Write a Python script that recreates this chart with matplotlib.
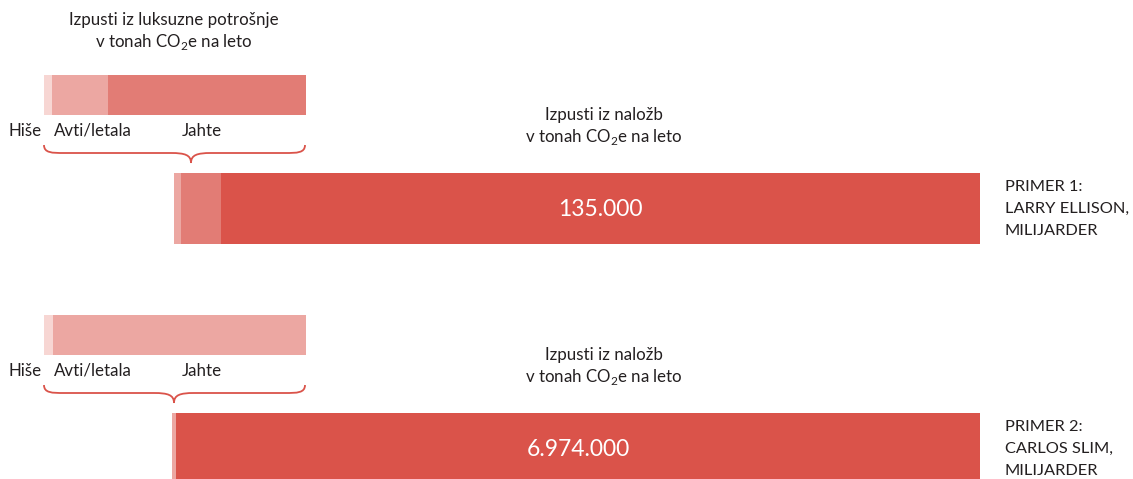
import matplotlib
matplotlib.use("Agg")
import matplotlib.pyplot as plt
from matplotlib.path import Path
from matplotlib.patches import PathPatch

plt.rcParams['font.family'] = ['Lato', 'DejaVu Sans']
plt.rcParams['mathtext.fontset'] = 'custom'
plt.rcParams['mathtext.rm'] = 'Lato'

# ---------------- data ----------------
lux_categories = ["Hiše", "Avti/letala", "Jahte"]
# share of luxury-consumption emissions (%), per example
ellison_lux = [3.0, 21.4, 75.6]
slim_lux = [3.4, 96.6, 0.0]
# investment bar segments (t CO2e / year): luxury parts + investments
ellison_inv = [1250, 7100, 135000]
slim_inv = [34650, 6974000]
ellison_label = "135.000"
slim_label = "6.974.000"
example_labels = [["PRIMER 1:", "LARRY ELLISON,", "MILIJARDER"],
                  ["PRIMER 2:", "CARLOS SLIM,", "MILIJARDER"]]

# ---------------- style ----------------
W, H = 1133, 479
C_LIGHTEST = "#f7d6d3"
C_LIGHT = "#eca7a2"
C_MED = "#e27c75"
C_DARK = "#da534a"
TXT = "#231f20"
lux_colors = [C_LIGHTEST, C_LIGHT, C_MED]

fig = plt.figure(figsize=(W / 100, H / 100), dpi=100)
fig.patch.set_facecolor("white")

# overlay axes in pixel coordinates (for text & braces)
ov = fig.add_axes([0, 0, 1, 1])
ov.set_xlim(0, W)
ov.set_ylim(H, 0)
ov.axis("off")


def bar_axes(x0, x1, y0, y1):
    ax = fig.add_axes([x0 / W, 1 - y1 / H, (x1 - x0) / W, (y1 - y0) / H])
    ax.set_ylim(-0.5, 0.5)
    ax.axis("off")
    return ax


def stacked(ax, values, colors):
    left = 0
    for v, c in zip(values, colors):
        if v > 0:
            ax.barh(0, v, left=left, height=1.0, color=c, linewidth=0)
        left += v
    ax.set_xlim(0, left)


def brace(x0, x1, xt, ytop, ymid, ytip, color=C_DARK):
    verts = [(x0, ytop),
             (x0, ymid), (x0 + 8, ymid), (x0 + 20, ymid),
             (xt - 20, ymid),
             (xt - 6, ymid), (xt, ymid + 2), (xt, ytip),
             (xt, ymid + 2), (xt + 6, ymid), (xt + 20, ymid),
             (x1 - 20, ymid),
             (x1 - 8, ymid), (x1, ymid), (x1, ytop)]
    codes = [Path.MOVETO,
             Path.CURVE4, Path.CURVE4, Path.CURVE4,
             Path.LINETO,
             Path.CURVE4, Path.CURVE4, Path.CURVE4,
             Path.CURVE4, Path.CURVE4, Path.CURVE4,
             Path.LINETO,
             Path.CURVE4, Path.CURVE4, Path.CURVE4]
    ov.add_patch(PathPatch(Path(verts, codes), fill=False, edgecolor=color, lw=1.3))


FS = 12.2
sub = r"v tonah CO$_\mathregular{2}$e na leto"

# ---- title for luxury bars
ov.text(174, 20, "Izpusti iz luksuzne potrošnje", ha="center", va="center", fontsize=FS, color=TXT)
ov.text(174, 42, sub, ha="center", va="center", fontsize=FS, color=TXT)

groups = [
    dict(dy=0, lux=ellison_lux, inv=ellison_inv,
         inv_colors=[C_LIGHT, C_MED, C_DARK], bx0=174, tip=191,
         label=ellison_label, ex=example_labels[0], bar_bottom=244, lab_y=209),
    dict(dy=240, lux=slim_lux, inv=slim_inv,
         inv_colors=[C_LIGHT, C_DARK], bx0=172, tip=174,
         label=slim_label, ex=example_labels[1], bar_bottom=479, lab_y=450),
]

for g in groups:
    dy = g["dy"]
    # luxury bar
    ax = bar_axes(44, 306, 75 + dy, 115 + dy)
    stacked(ax, g["lux"], lux_colors)
    # category labels
    ov.text(9, 131 + dy, lux_categories[0], ha="left", va="center", fontsize=FS, color=TXT)
    ov.text(54, 131 + dy, lux_categories[1], ha="left", va="center", fontsize=FS, color=TXT)
    ov.text(182, 131 + dy, lux_categories[2], ha="left", va="center", fontsize=FS, color=TXT)
    # brace
    brace(44, 305, g["tip"], 145 + dy, 153 + dy, 163 + dy)
    # investment title
    ov.text(604, 115 + dy, "Izpusti iz naložb", ha="center", va="center", fontsize=FS, color=TXT)
    ov.text(604, 137 + dy, sub, ha="center", va="center", fontsize=FS, color=TXT)
    # investment bar
    y0 = 173 + dy
    y1 = g["bar_bottom"]
    ax2 = bar_axes(g["bx0"], 980, y0, y1)
    stacked(ax2, g["inv"], g["inv_colors"])
    # value label centered on the investment segment
    tot = sum(g["inv"])
    mid = tot - g["inv"][-1] / 2
    ty = 0.5 - (g["lab_y"] - y0) / (y1 - y0)
    ax2.text(mid, ty, g["label"], ha="center", va="center", fontsize=16.5, color="white")
    # example label, one line at a time
    for i, line in enumerate(g["ex"]):
        ov.text(1005, 187 + dy + 22 * i, line, ha="left", va="center", fontsize=11.8, color=TXT)

fig.savefig("out.png", dpi=100, facecolor="white")
